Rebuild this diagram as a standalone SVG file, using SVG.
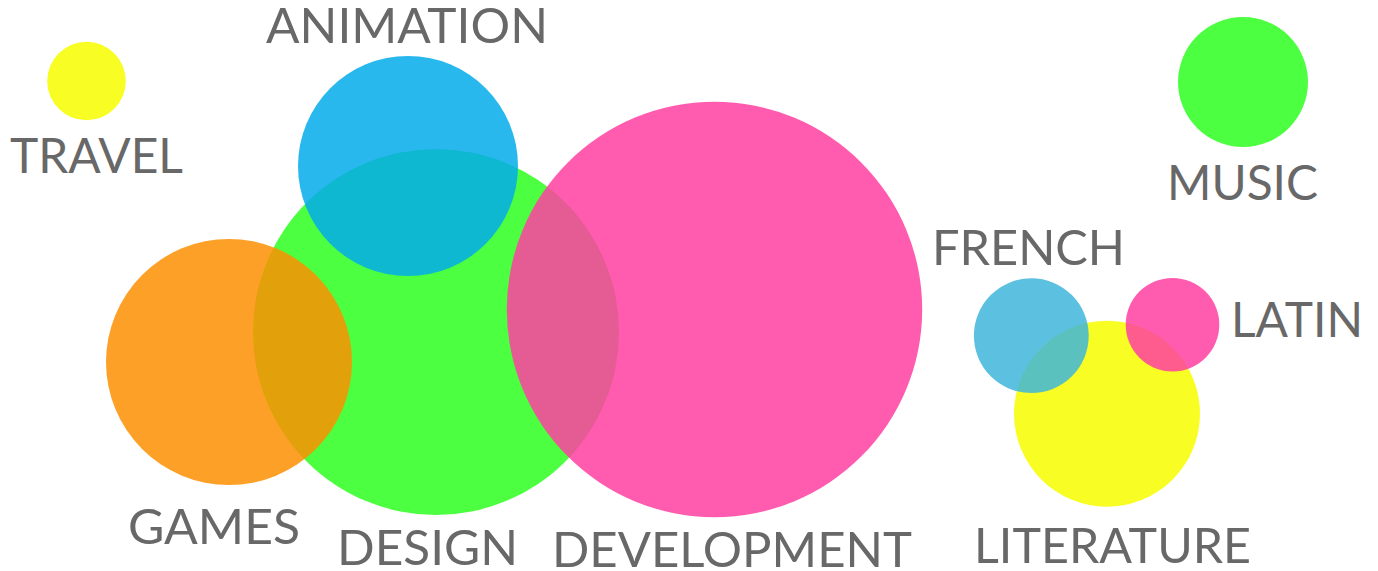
<svg xmlns="http://www.w3.org/2000/svg" width="1378" height="571" viewBox="0 0 1378 571">
<style>
.lbl{font-family:Lato,"Open Sans","Liberation Sans",sans-serif;font-size:48px;font-weight:400;fill:#686868;}
.top{fill-opacity:0.85;}
</style>
<rect width="1378" height="571" fill="#ffffff"/>
<g id="travel"><circle cx="86.5" cy="81" r="39.3" fill="#f8fe24"/><text class="lbl" x="10" y="173" textLength="173" lengthAdjust="spacingAndGlyphs">TRAVEL</text></g>
<g id="design"><circle cx="436" cy="332" r="183" fill="#4cff40"/><text class="lbl" x="337" y="565" textLength="181" lengthAdjust="spacingAndGlyphs">DESIGN</text></g>
<g id="games"><circle class="top" cx="229" cy="362" r="123" fill="#fd8f02"/><text class="lbl" x="128" y="544" textLength="172" lengthAdjust="spacingAndGlyphs">GAMES</text></g>
<g id="animation"><circle class="top" cx="408" cy="166" r="110" fill="#03abeb"/><text class="lbl" x="266" y="42.5" textLength="282" lengthAdjust="spacingAndGlyphs">ANIMATION</text></g>
<g id="development"><circle class="top" cx="714.5" cy="309.5" r="207.7" fill="#ff3fa2"/><text class="lbl" x="552" y="567" textLength="360" lengthAdjust="spacingAndGlyphs">DEVELOPMENT</text></g>
<g id="music"><circle cx="1243" cy="82" r="65" fill="#4cff40"/><text class="lbl" x="1167" y="200" textLength="151" lengthAdjust="spacingAndGlyphs">MUSIC</text></g>
<g id="literature"><circle cx="1107" cy="413.7" r="93" fill="#f8fe24"/><text class="lbl" x="974" y="563" textLength="277" lengthAdjust="spacingAndGlyphs">LITERATURE</text></g>
<g id="french"><circle cx="1031.3" cy="335.7" r="57.4" fill="#3fb6db" fill-opacity="0.85"/><text class="lbl" x="932" y="265" textLength="193" lengthAdjust="spacingAndGlyphs">FRENCH</text></g>
<g id="latin"><circle class="top" cx="1172.5" cy="324.7" r="46.8" fill="#ff3fa2"/><text class="lbl" x="1231" y="337" textLength="132" lengthAdjust="spacingAndGlyphs">LATIN</text></g>
<g id="connectors"></g>
</svg>
